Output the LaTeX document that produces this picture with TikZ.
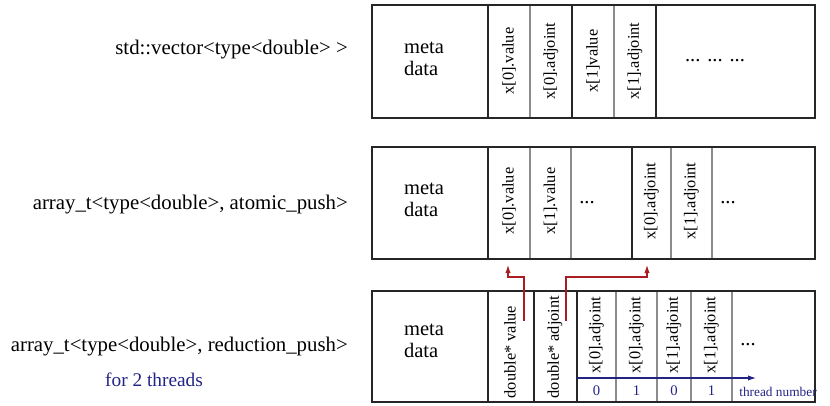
\documentclass[tikz,border=0pt]{standalone}
\usepackage{fontspec}
\setmainfont{Liberation Serif}
\usetikzlibrary{arrows.meta}
\definecolor{ptrred}{RGB}{170,30,35}
\definecolor{thrblue}{RGB}{35,35,135}

\begin{document}
\begin{tikzpicture}[x=0.75pt, y=-0.75pt, >={Latex[length=6pt,width=4pt]},
  mem/.style={draw=black!85, line width=1.1pt},
  sep/.style={black!85, line width=1.1pt},
  sub/.style={black!45, line width=0.8pt},
  lbl/.style={anchor=base east, inner sep=0pt, font=\fontsize{15.6}{18}\selectfont},
  meta/.style={align=left, inner sep=0pt, font=\fontsize{15.4}{16.5}\selectfont},
  cell/.style={rotate=90, inner sep=0pt, font=\fontsize{12.3}{14}\selectfont},
  dots/.style={anchor=base, inner sep=0pt, font=\fontsize{15.4}{18}\selectfont},
  ptr/.style={->, ptrred, line width=0.8pt},
  thr/.style={text=thrblue, inner sep=0pt, font=\fontsize{10}{12}\selectfont}]

  \useasboundingbox (0,0) rectangle (830,406);

  % std::vector
  \node[lbl] (vecl) at (348,55) {std::vector<type<double> >};
  \foreach \x in {488,572,656} \draw[sep] (\x,5) -- (\x,118);
  \foreach \x in {530,614} \draw[sub] (\x,5) -- (\x,118);
  \draw[mem] (372,5) rectangle (815,118);
  \node[meta] (vecm) at (424,59) {meta\\data};
  \node[cell] (vec0v) at (509,61) {x[0].value};
  \node[cell] (vec0a) at (551,61) {x[0].adjoint};
  \node[cell] (vec1v) at (593,61) {x[1]value};
  \node[cell] (vec1a) at (635,61) {x[1].adjoint};
  \node[dots] (vecd) at (715,62) {... ... ...};

  % atomic_push
  \node[lbl] (atl) at (348,209) {array\_t<type<double>, atomic\_push>};
  \foreach \x in {488,632} \draw[sep] (\x,147) -- (\x,259);
  \foreach \x in {530,571,671,712} \draw[sub] (\x,147) -- (\x,259);
  \draw[mem] (372,147) rectangle (815,259);
  \node[meta] (atm) at (424,200) {meta\\data};
  \node[cell] (at0v) at (509,201) {x[0].value};
  \node[cell] (at1v) at (550.5,201) {x[1].value};
  \node[dots] (atdv) at (587,203) {...};
  \node[cell] (at0a) at (651.5,201) {x[0].adjoint};
  \node[cell] (at1a) at (691.5,201) {x[1].adjoint};
  \node[dots] (atda) at (728,203) {...};

  % reduction_push
  \node[lbl] (rdl) at (348,351) {array\_t<type<double>, reduction\_push>};
  \node[thr, font=\fontsize{14.5}{17}\selectfont] (rdt) at (154,380) {for 2 threads};
  \foreach \x in {488,534,577} \draw[sep] (\x,291) -- (\x,402);
  \foreach \x in {616,657,691,732} \draw[sub] (\x,291) -- (\x,402);
  \draw[mem] (372,291) rectangle (815,402);
  \node[meta] (rdm) at (424,341) {meta\\data};
  \node[cell] (rdpv) at (510,352) {double* value};
  \node[cell] (rdpa) at (555,347) {double* adjoint};
  \node[cell] (rd00) at (596.5,335) {x[0].adjoint};
  \node[cell] (rd01) at (636.5,335) {x[0].adjoint};
  \node[cell] (rd10) at (674,335) {x[1].adjoint};
  \node[cell] (rd11) at (711.5,335) {x[1].adjoint};
  \node[dots] (rdd) at (748,345) {...};

  % thread numbers
  \coordinate (thra) at (577,378);
  \coordinate (thrb) at (756,378);
  \draw[->, thrblue, line width=0.8pt] (thra) -- (thrb);
  \node[thr, font=\fontsize{11}{13}\selectfont] (t00) at (596.5,391) {0};
  \node[thr, font=\fontsize{11}{13}\selectfont] (t01) at (636.5,391) {1};
  \node[thr, font=\fontsize{11}{13}\selectfont] (t10) at (674,391) {0};
  \node[thr, font=\fontsize{11}{13}\selectfont] (t11) at (711.5,391) {1};
  \node[thr] (tlab) at (778,392) {thread number};

  % pointers
  \coordinate (pv) at (524,321);
  \coordinate (pa) at (566,321);
  \coordinate (v0in) at (508,265);
  \coordinate (a0in) at (647,265);
  \draw[ptr] (pv) -- ++(0,-44) -| (v0in);
  \draw[ptr] (pa) -- ++(0,-44) -| (a0in);
\end{tikzpicture}
\end{document}
